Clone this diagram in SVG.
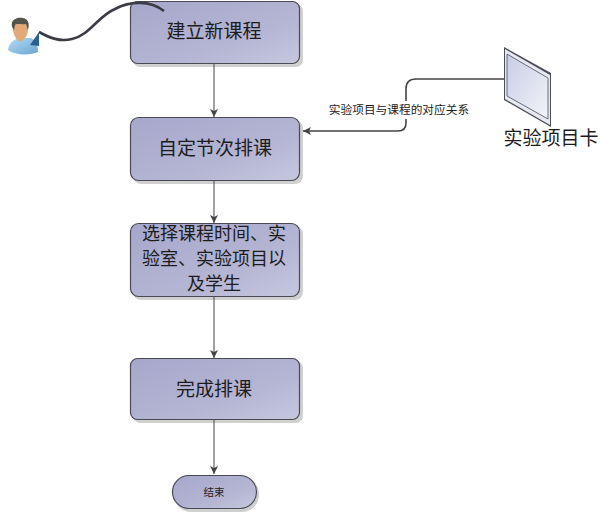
<svg xmlns="http://www.w3.org/2000/svg" width="600" height="512" viewBox="0 0 600 512">
<defs>
<linearGradient id="g" x1="0" y1="0" x2="1" y2="1"><stop offset="0" stop-color="#a7a7cc"/><stop offset="0.6" stop-color="#b4b4d3"/><stop offset="1" stop-color="#c6c7de"/></linearGradient>
<linearGradient id="card" x1="0" y1="0" x2="1" y2="1"><stop offset="0" stop-color="#c9cde6"/><stop offset="1" stop-color="#f2f3f9"/></linearGradient>
<linearGradient id="shirt" x1="0" y1="0" x2="1" y2="1"><stop offset="0" stop-color="#b4dcf2"/><stop offset="1" stop-color="#6aa6d2"/></linearGradient>
<marker id="a" markerUnits="userSpaceOnUse" markerWidth="10" markerHeight="10" refX="8" refY="4" orient="auto"><path d="M0 0L8 4L0 8L2 4Z" fill="#444"/></marker>
</defs>
<style>
.box{fill:url(#g);stroke:#4a4a55;stroke-width:1.2}
.sh{fill:#d0d0d0}
.line{fill:none;stroke:#555;stroke-width:1.1;marker-end:url(#a)}
text{font-family:"Noto Sans CJK SC","Liberation Sans",sans-serif;text-anchor:middle;fill:#1c1c1c}
.t{font-size:19px}
.m{font-size:18px}
</style>
<rect width="600" height="512" fill="#fff"/>
<g id="n1"><rect class="sh" x="133" y="4" width="170" height="63" rx="7"/><rect class="box" x="130.500" y="1.500" width="169" height="62" rx="7"/><text class="t" x="214" y="38">建立新课程</text></g>
<g id="n2"><rect class="sh" x="133" y="120" width="170" height="64" rx="8"/><rect class="box" x="130.500" y="117.500" width="169" height="63" rx="8"/><text class="t" x="215" y="155">自定节次排课</text></g>
<g id="n3"><rect class="sh" x="133" y="226" width="170" height="74" rx="8"/><rect class="box" x="130.500" y="223.500" width="169" height="73" rx="8"/>
<text class="m" x="214" y="240">选择课程时间、实</text><text class="m" x="214" y="265">验室、实验项目以</text><text class="m" x="214" y="290">及学生</text></g>
<g id="n4"><rect class="sh" x="133" y="361" width="170" height="62" rx="7"/><rect class="box" x="130.500" y="358.500" width="169" height="61" rx="7"/><text class="t" x="214" y="396">完成排课</text></g>
<g id="n5"><rect class="sh" x="174" y="477" width="85" height="35" rx="17"/><rect class="box" x="172.500" y="475.500" width="84" height="33" rx="16.500"/><text x="214" y="496" font-size="10.500">结束</text></g>
<g id="connectors">
<path class="line" d="M214 64V117"/>
<path class="line" d="M214 181V223"/>
<path class="line" d="M214 297V358"/>
<path class="line" d="M214 420V474"/>
<path d="M505 79H416Q406 79 406 89V101" fill="none" stroke="#444" stroke-width="1.6"/>
<path d="M406 119V123Q406 131 398 131H303" fill="none" stroke="#444" stroke-width="1.6" marker-end="url(#a)"/>
<path d="M39 32C50 38 60 42 72 39C90 35 98 16 115 9C130 1 150 0 164 11" fill="none" stroke="#3c3c44" stroke-width="2.6"/>
</g>
<g id="actor">
<path d="M8 50C9 43 13 40 19 38L31 38C37 41 38 47 38 52C30 56 14 55 8 50Z" fill="url(#shirt)"/>
<path d="M30 45L39 32L39 46Z" fill="#2c5f92"/>
<path d="M13 24C13 18 26 18 28 23L28 31C27 37 23 42 19 41C15 39 12 32 13 24Z" fill="#e3a878"/>
<path d="M12 27C10 19 18 17 23 18C28 19 30 23 28 30L26 24C22 25 16 23 15 25L14 30Z" fill="#55554c"/>
</g>
<g id="card-node">
<path d="M504 47L551 73V127L504 100Z" fill="#4a4e5a"/>
<path d="M505 49L550 75V125L505 99Z" fill="#e8e9f0"/>
<path d="M507 54L548 78V119L507 96Z" fill="url(#card)" stroke="#4a4e5a" stroke-width="0.800"/>
<text x="551" y="145" font-size="19">实验项目卡</text>
</g>
<g id="edge-label"><text x="399" y="114" font-size="11.700" fill="#666">实验项目与课程的对应关系</text></g>
</svg>
